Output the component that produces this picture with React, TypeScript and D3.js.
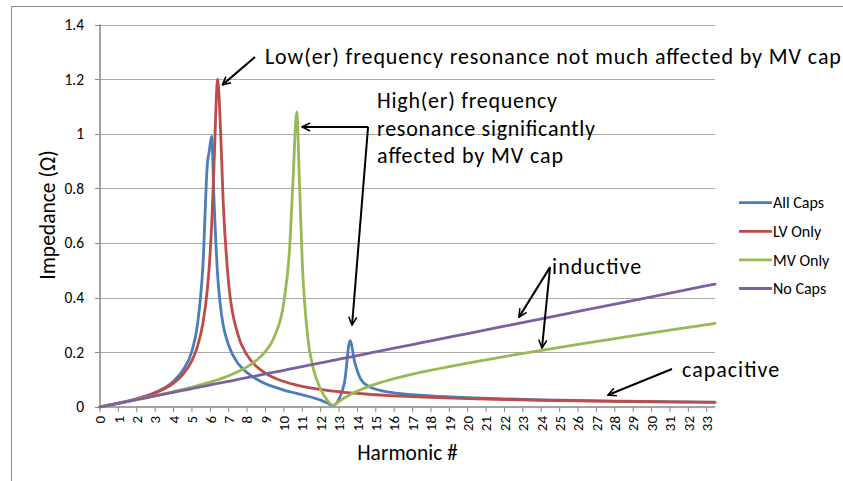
import React from 'react';
import * as d3 from 'd3';

const harmonics = [0, 1, 2, 3, 4, 4.5, 5, 5.3, 5.6, 5.84, 5.95, 6.07, 6.2, 6.4, 6.55, 6.7, 7, 7.5, 8, 8.5, 9, 9.5, 10, 10.3, 10.5, 10.7, 10.85, 11, 11.3, 11.6, 12, 12.35, 12.67, 13, 13.3, 13.6, 13.85, 14.2, 14.6, 15, 16, 17, 18, 20, 22, 24, 26, 28, 30, 32, 33.45];

const allCaps = [0, 0.0138, 0.0302, 0.0534, 0.0945, 0.1336, 0.205, 0.30, 0.52, 0.89, 0.94, 0.99, 0.76, 0.48, 0.37, 0.30, 0.225, 0.160, 0.126, 0.1025, 0.0854, 0.0725, 0.0621, 0.0566, 0.0531, 0.0497, 0.0472, 0.0446, 0.0394, 0.0338, 0.0253, 0.0152, 0.0052, 0.0285, 0.091, 0.243, 0.165, 0.100, 0.076, 0.065, 0.052, 0.045, 0.0405, 0.0341, 0.0296, 0.0263, 0.0238, 0.0217, 0.0200, 0.0186, 0.0177];

const lvOnly = [0, 0.0138, 0.0298, 0.0517, 0.0877, 0.1185, 0.1698, 0.2212, 0.3073, 0.4315, 0.5215, 0.6615, 0.8827, 1.2, 1.0249, 0.7524, 0.4505, 0.2654, 0.1898, 0.149, 0.1235, 0.106, 0.0932, 0.087, 0.0834, 0.0801, 0.0779, 0.0757, 0.0718, 0.0683, 0.0642, 0.061, 0.0584, 0.0559, 0.0539, 0.052, 0.0506, 0.0487, 0.0467, 0.0449, 0.041, 0.0378, 0.035, 0.0307, 0.0274, 0.0247, 0.0226, 0.0208, 0.0192, 0.0179, 0.0171];

const mvOnly = [0, 0.0135, 0.0272, 0.0413, 0.0563, 0.0643, 0.0726, 0.0779, 0.0835, 0.0881, 0.0903, 0.0928, 0.0955, 0.0998, 0.1032, 0.1068, 0.1144, 0.1288, 0.1467, 0.1704, 0.2033, 0.26, 0.3836, 0.568, 0.8313, 1.08, 0.819, 0.5318, 0.256, 0.1407, 0.0651, 0.0259, 0.006, 0.0201, 0.0338, 0.0452, 0.0538, 0.0643, 0.0747, 0.0839, 0.1035, 0.1201, 0.1347, 0.1609, 0.1847, 0.2073, 0.229, 0.2501, 0.2709, 0.2914, 0.3062];

const noCaps = [0, 0.0135, 0.0269, 0.0404, 0.0538, 0.0605, 0.0673, 0.0713, 0.0753, 0.0785, 0.08, 0.0816, 0.0834, 0.0861, 0.0881, 0.0901, 0.0942, 0.1009, 0.1076, 0.1143, 0.1211, 0.1278, 0.1345, 0.1385, 0.1412, 0.1439, 0.1459, 0.148, 0.152, 0.156, 0.1614, 0.1661, 0.1704, 0.1749, 0.1789, 0.1829, 0.1863, 0.191, 0.1964, 0.2018, 0.2152, 0.2287, 0.2421, 0.269, 0.2959, 0.3228, 0.3497, 0.3766, 0.4035, 0.4304, 0.4499];

const seriesNames = ['All Caps', 'LV Only', 'MV Only', 'No Caps'];
const seriesValues = [allCaps, lvOnly, mvOnly, noCaps];
const seriesColors = ['#4A7EBB', '#BE4B48', '#98B954', '#7D60A0'];

const yTicks = [0, 0.2, 0.4, 0.6, 0.8, 1, 1.2, 1.4];
const xTicks = d3.range(0, 34);

const xTitle = 'Harmonic #';
const yTitle = 'Impedance (\u03A9)';

// annotation texts (anchored in data coordinates), with their rendered widths
const noteLow = { text: 'Low(er) frequency resonance not much affected by MV cap', h: 8.97, v: 1.255, w: 576 };
const noteHigh = { lines: ['High(er) frequency', 'resonance significantly', 'affected by MV cap'], h: 15.07, v: [1.094, 0.993, 0.893], w: [180, 218, 186] };
const noteInd = { text: 'inductive', h: 24.59, v: 0.487, w: 89 };
const noteCap = { text: 'capacitive', h: 31.66, v: 0.110, w: 97 };
// arrows: [fromH, fromV, toH, toV]
const arrows = [
  [8.43, 1.281, 6.66, 1.179],
  [14.58, 1.025, 10.99, 1.025],
  [14.58, 1.025, 13.71, 0.300],
  [24.48, 0.512, 22.79, 0.329],
  [24.48, 0.512, 24.04, 0.216],
  [31.11, 0.139, 27.63, 0.044],
];

const W = 843;
const H = 481;
const FONT = "Carlito, Calibri, Lato, 'Open Sans', sans-serif";

export default function App() {
  const x = d3.scaleLinear().domain([0, 33.45]).range([100, 715]);
  const y = d3.scaleLinear().domain([0, 1.4]).range([407, 24.5]);

  const line = (vals: number[]) =>
    d3
      .line<number>()
      .x((_, i) => x(harmonics[i]))
      .y((d) => y(d))
      .curve(d3.curveMonotoneX)(vals) || '';

  const legendY = d3.scaleLinear().domain([0, 3]).range([202.7, 288.5]);
  const noteSize = 22;

  return (
    <svg
      width={W}
      height={H}
      style={{ position: 'fixed', left: 0, top: 0, background: '#fff' }}
      fontFamily={FONT}
    >
      <defs>
        <marker
          id="arr"
          viewBox="0 0 10 10"
          refX="9"
          refY="5"
          markerWidth="5"
          markerHeight="5"
          orient="auto"
          markerUnits="strokeWidth"
        >
          <path d="M1,1 L9,5 L1,9" fill="none" stroke="#000" strokeWidth="1.6" />
        </marker>
      </defs>
      <rect x={0} y={0} width={W} height={H} fill="#fff" />
      {/* outer chart frame */}
      <path d={`M11.5,${H + 2} L11.5,6.5 L${W + 2},6.5`} fill="none" stroke="#898989" strokeWidth={1} />

      {/* gridlines */}
      {yTicks.slice(1).map((t) => (
        <line key={'g' + t} x1={x(0)} x2={x(33.45)} y1={Math.round(y(t)) + 0.5} y2={Math.round(y(t)) + 0.5} stroke="#a9a9a9" strokeWidth={1} />
      ))}

      {/* y axis */}
      <line x1={100} x2={100} y1={y(1.4)} y2={y(0)} stroke="#868686" strokeWidth={1.5} />
      {yTicks.map((t) => (
        <g key={'yt' + t}>
          <line x1={95} x2={100} y1={Math.round(y(t)) + 0.5} y2={Math.round(y(t)) + 0.5} stroke="#868686" strokeWidth={1} />
          <text x={84} y={y(t)} dy="0.35em" textAnchor="end" fontSize={15.5} fill="#000">
            {String(t)}
          </text>
        </g>
      ))}

      {/* x axis */}
      <line x1={x(0)} x2={x(33.45)} y1={y(0)} y2={y(0)} stroke="#868686" strokeWidth={1.5} />
      {xTicks.map((t) => (
        <g key={'xt' + t}>
          <line x1={x(t)} x2={x(t)} y1={y(0)} y2={y(0) + 5} stroke="#868686" strokeWidth={1} />
          <text
            transform={`translate(${x(t)},${y(0) + 9}) rotate(-90)`}
            dy="0.35em"
            textAnchor="end"
            fontSize={15}
            fill="#000"
          >
            {String(t)}
          </text>
        </g>
      ))}

      {/* series */}
      {seriesValues.map((vals, i) => (
        <path key={seriesNames[i]} d={line(vals)} fill="none" stroke={seriesColors[i]} strokeWidth={2.8} strokeLinejoin="round" strokeLinecap="round" />
      ))}

      {/* axis titles */}
      <text x={407.5} y={460} textAnchor="middle" fontSize={21.5} fill="#000">
        {xTitle}
      </text>
      <text transform="translate(47,215) rotate(-90)" dy="0.35em" textAnchor="middle" fontSize={21.5} fill="#000">
        {yTitle}
      </text>

      {/* legend */}
      {seriesNames.map((n, i) => (
        <g key={'lg' + n}>
          <line x1={739} x2={772} y1={legendY(i)} y2={legendY(i)} stroke={seriesColors[i]} strokeWidth={2.8} />
          <text x={773} y={legendY(i)} dy="0.35em" fontSize={16} fill="#000">
            {n}
          </text>
        </g>
      ))}

      {/* arrows */}
      {arrows.map((a, i) => (
        <line key={'ar' + i} x1={x(a[0])} y1={y(a[1])} x2={x(a[2])} y2={y(a[3])} stroke="#000" strokeWidth={2} markerEnd="url(#arr)" />
      ))}

      {/* annotations */}
      <text x={x(noteLow.h)} y={y(noteLow.v)} fontSize={noteSize} textLength={noteLow.w} lengthAdjust="spacing" fill="#000">
        {noteLow.text}
      </text>
      {noteHigh.lines.map((l, i) => (
        <text key={'nh' + i} x={x(noteHigh.h)} y={y(noteHigh.v[i])} fontSize={noteSize} textLength={noteHigh.w[i]} lengthAdjust="spacing" fill="#000">
          {l}
        </text>
      ))}
      <text x={x(noteInd.h)} y={y(noteInd.v)} fontSize={noteSize} textLength={noteInd.w} lengthAdjust="spacing" fill="#000">
        {noteInd.text}
      </text>
      <text x={x(noteCap.h)} y={y(noteCap.v)} fontSize={noteSize} textLength={noteCap.w} lengthAdjust="spacing" fill="#000">
        {noteCap.text}
      </text>
    </svg>
  );
}
